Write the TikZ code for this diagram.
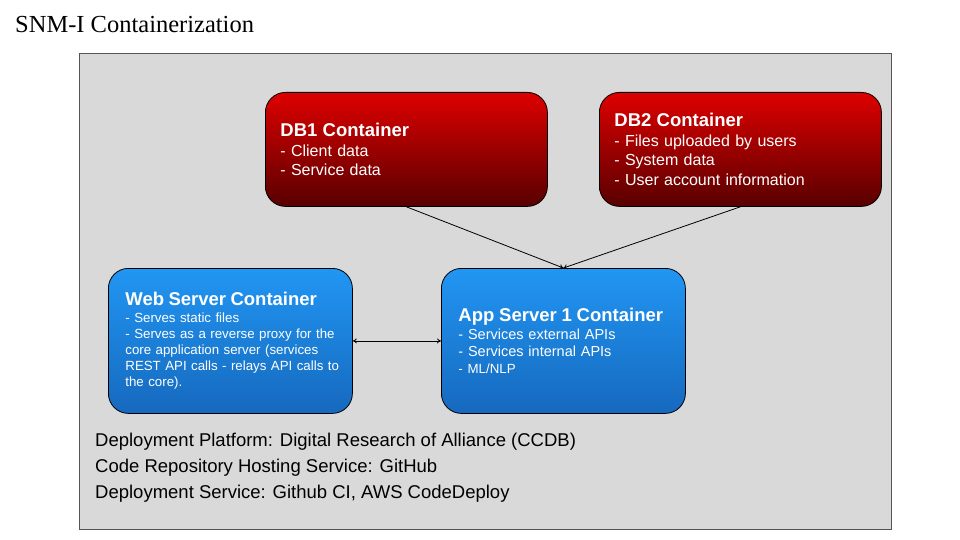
\documentclass[tikz,border=0pt]{standalone}
\usepackage{fontspec}
\setmainfont{Liberation Sans}
\newfontfamily\titleserif{Liberation Serif}
\usetikzlibrary{positioning}
\usetikzlibrary{arrows.meta}

\definecolor{dbtop}{RGB}{222,0,0}
\definecolor{dbbottom}{RGB}{88,0,0}
\definecolor{srvtop}{RGB}{33,150,243}
\definecolor{srvbottom}{RGB}{22,105,190}
\definecolor{platformgray}{RGB}{217,217,217}
\definecolor{platformedge}{RGB}{85,85,85}

\newcommand{\boxhead}[1]{{\fontsize{18.5}{22}\selectfont\bfseries #1}}

\begin{document}
\begin{tikzpicture}[x=1pt,y=-1pt,
  container/.style={draw=black,line width=0.8pt,rounded corners=20pt,align=left,inner ysep=0pt,anchor=north west,text=white},
  dbbox/.style={container,top color=dbtop,bottom color=dbbottom,inner xsep=15pt,text width=252pt,minimum height=114pt,font=\fontsize{16}{19.5}\selectfont},
  srvbox/.style={container,top color=srvtop,bottom color=srvbottom,inner xsep=17pt,text width=210pt,minimum height=145pt},
  link/.style={line width=0.8pt,-{To[length=4pt,width=5pt]}}]
  \useasboundingbox (0,0) rectangle (960,540);
  %title
  \node[font=\titleserif\fontsize{24.5}{30}\selectfont,anchor=base west,inner sep=0pt] (title) at (15,33) {SNM-I Containerization};
  %platform frame
  \draw[fill=platformgray,draw=platformedge,line width=0.8pt] (79,53) rectangle (891,529);
  %databases
  \node[dbbox] (db1) at (265,92) {\boxhead{DB1 Container}\\- Client data\\- Service data};
  \node[dbbox] (db2) at (599,92) {\boxhead{DB2 Container}\\- Files uploaded by users\\- System data\\- User account information};
  %servers
  \node[srvbox,font=\fontsize{13.3}{16}\selectfont] (web) at (108,268) {\boxhead{Web Server Container}\\[1pt]- Serves static files\\\mbox{- Serves as a reverse proxy for the}\\\mbox{core application server (services}\\\mbox{REST API calls - relays API calls to}\\the core).};
  \node[srvbox,font=\fontsize{14.5}{17}\selectfont] (app) at (441,268) {\boxhead{App Server 1 Container}\\[1.5pt]- Services external APIs\\- Services internal APIs\\{\fontsize{13.3}{17}\selectfont - ML/NLP}};
  %connections
  \draw[link] (db1.south) -- (app.north);
  \draw[link] (db2.south) -- (app.north);
  \draw[link,{To[length=4pt,width=5pt]}-{To[length=4pt,width=5pt]}] (web.east) -- (app.west);
  %deployment notes
  \node[anchor=north west,inner sep=0pt,align=left,font=\fontsize{18.5}{26}\selectfont] (notes) at (95,433) {Deployment Platform: Digital Research of Alliance (CCDB)\\Code Repository Hosting Service: GitHub\\Deployment Service: Github CI, AWS CodeDeploy};
\end{tikzpicture}
\end{document}
